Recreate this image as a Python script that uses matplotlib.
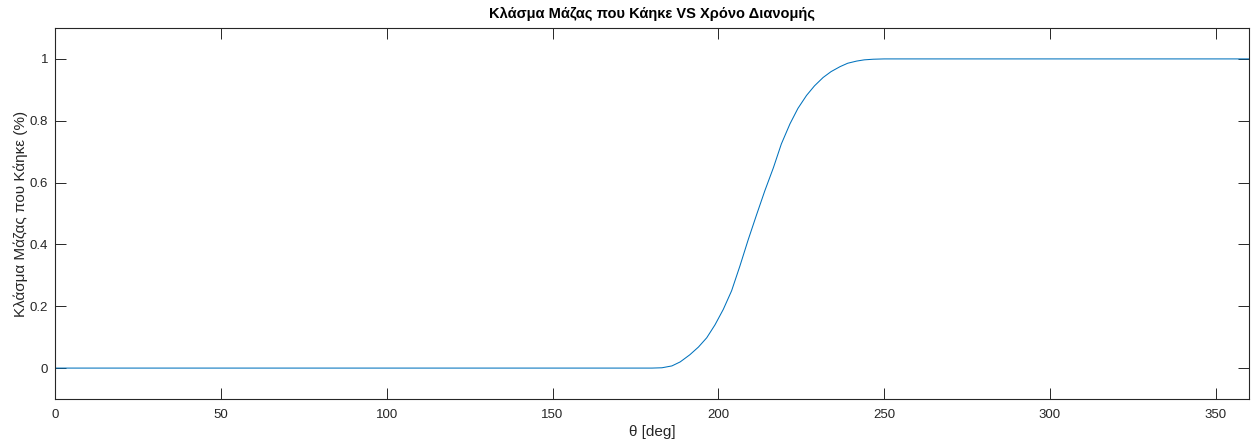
import numpy as np
import matplotlib
matplotlib.use("Agg")
import matplotlib.pyplot as plt

# values
theta = [0, 50, 100, 150, 175, 180, 183, 186, 188.5, 191.4, 194, 196.5, 199, 201.5,
         204, 206.5, 209, 211.5, 214, 216.6, 219, 221.6, 224, 226.6, 229, 231.6, 234,
         236.7, 239, 241.7, 244, 246.7, 250, 254.7, 300, 360]
burned = [0, 0, 0, 0, 0, 0, 0.001, 0.007, 0.02, 0.043, 0.068, 0.098, 0.14, 0.19,
          0.25, 0.33, 0.415, 0.495, 0.573, 0.648, 0.725, 0.79, 0.84, 0.882, 0.913, 0.94, 0.959,
          0.975, 0.986, 0.993, 0.997, 0.999, 1.0, 1.0, 1.0, 1.0]

title = "Κλάσμα Μάζας που Κάηκε VS Χρόνο Διανομής"
xlab = "θ [deg]"
ylab = "Κλάσμα Μάζας που Κάηκε (%)"

plt.rcParams['font.family'] = ['Liberation Sans', 'DejaVu Sans']
axc = '#262626'

fig = plt.figure(figsize=(12.51, 4.44), dpi=100)
ax = fig.add_axes([55/1251, 45/444, 1194/1251, 371/444])
ax.plot(theta, burned, color='#0072BD', lw=0.75)

ax.set_xlim(0, 360)
ax.set_ylim(-0.1, 1.1)
ax.set_xticks([0, 50, 100, 150, 200, 250, 300, 350])
ax.set_yticks([0, 0.2, 0.4, 0.6, 0.8, 1])
ax.set_yticklabels(['0', '0.2', '0.4', '0.6', '0.8', '1'])
ax.tick_params(direction='in', length=8, width=0.7, colors=axc, labelsize=9.5,
               top=True, right=True)
ax.tick_params(axis='x', pad=7)
ax.tick_params(axis='y', pad=5)
for s in ax.spines.values():
    s.set_color(axc)
    s.set_linewidth(0.8)

ax.set_title(title, fontsize=10.5, fontweight='bold', color='black', pad=7)
ax.set_xlabel(xlab, fontsize=11, color=axc, labelpad=3)
ax.set_ylabel(ylab, fontsize=11, color=axc, labelpad=1)

fig.savefig("out.png", dpi=100)
